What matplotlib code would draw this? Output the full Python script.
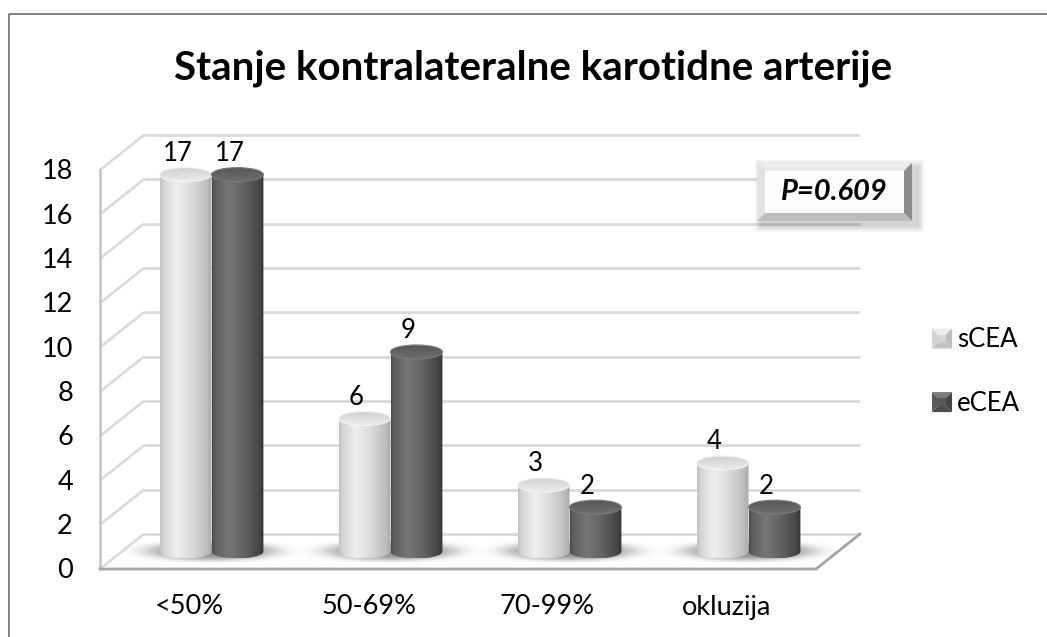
import numpy as np
import matplotlib
matplotlib.use("Agg")
import matplotlib.pyplot as plt
from matplotlib.colors import LinearSegmentedColormap
from matplotlib.patches import Ellipse, Polygon, Rectangle
from matplotlib.transforms import offset_copy
from matplotlib.legend_handler import HandlerBase

# ---- data -------------------------------------------------------------
categories = ['<50%', '50-69%', '70-99%', 'okluzija']
scea = [17, 6, 3, 4]
ecea = [17, 9, 2, 2]
series_names = ['sCEA', 'eCEA']
yticks = list(range(0, 19, 2))
title = 'Stanje kontralateralne karotidne arterije'
p_label = 'P=0.609'

plt.rcParams['font.family'] = ['Lato', 'DejaVu Sans']

W, H = 1047, 637
fig = plt.figure(figsize=(W / 100, H / 100), dpi=100)
fig.patch.set_facecolor('white')

# ---- axes laid out on the mid-depth plane of the oblique 3-D box -------
XMIN, XMAX = -0.9, 3.9
YMIN, YMAX = -3.2, 19.0
PX_X, PX_Y = 179.0, 22.17          # pixels per category / per unit
left_px = 122 - (-0.5 - XMIN) * PX_X
zero_px = 551.5
ax = fig.add_axes([left_px / W,
                   (H - (zero_px - YMIN * PX_Y)) / H,
                   (XMAX - XMIN) * PX_X / W,
                   (YMAX - YMIN) * PX_Y / H])
ax.set_xlim(XMIN, XMAX)
ax.set_ylim(YMIN, YMAX)
ax.axis('off')

DX, DY = 22 / PX_X, 17.5 / PX_Y     # half depth of the box
EH = 14 / PX_Y                      # cylinder cap height
BW = 0.29                           # bar width
LO, HI = -0.5, len(categories) - 0.5
TOP = yticks[-1]

# floor
ax.add_patch(Polygon([(LO - DX, -DY), (HI - DX, -DY), (HI + DX, DY), (LO + DX, DY)],
                     closed=True, fc='white', ec='none', zorder=1))
# back wall and side wall grid
for v in yticks:
    ax.plot([LO + DX, HI + DX], [v + DY, v + DY], color='#d9d9d9', lw=2.0,
            solid_capstyle='butt', zorder=2)
    ax.plot([LO - DX, LO + DX], [v - DY, v + DY], color='#d9d9d9', lw=1.8,
            solid_capstyle='butt', zorder=2)
ax.plot([LO - DX, LO - DX], [-DY, TOP - DY], color='#c4c4c4', lw=1.8, zorder=3)
ax.plot([LO - DX, HI - DX, HI + DX], [-DY, -DY, DY], color='#a6a6a6', lw=2.0,
        solid_joinstyle='miter', zorder=3)


def ramp(stops, n=256):
    cm = LinearSegmentedColormap.from_list('r', stops)
    return cm(np.linspace(0, 1, n))[:, :3]


side_light = ramp([(0.0, '#c2c2c2'), (0.08, '#d6d6d6'), (0.32, '#efefef'),
                   (0.6, '#dcdcdc'), (0.9, '#bdbdbd'), (1.0, '#a9a9a9')])
side_dark = ramp([(0.0, '#4a4a4a'), (0.06, '#5e5e5e'), (0.32, '#767676'),
                  (0.6, '#636363'), (0.9, '#474747'), (1.0, '#353535')])
top_light = ramp([(0.0, '#ececec'), (0.5, '#dedede'), (0.9, '#d2d2d2'), (1.0, '#e6e6e6')])
top_dark = ramp([(0.0, '#707070'), (0.5, '#636363'), (0.9, '#585858'), (1.0, '#6a6a6a')])


# soft floor shadows under each pair
gx, gy = np.meshgrid(np.linspace(-0.5, 0.5, 200), np.linspace(-1.2, 1.2, 80))
for i in range(len(categories)):
    r = (gx / 0.36) ** 2 + (gy / 0.42) ** 2
    sh = np.zeros(gx.shape + (4,))
    sh[..., :3] = 0.42
    sh[..., 3] = 0.75 * np.exp(-r ** 2)
    ax.imshow(sh, extent=[i - 0.5, i + 0.5, -1.2, 1.2], origin='lower',
              aspect='auto', interpolation='bilinear', zorder=4)


def cylinder(xc, v, side, cap, rim, z):
    x0, x1 = xc - BW / 2, xc + BW / 2
    t = np.linspace(np.pi, 2 * np.pi, 80)
    verts = [(x0, v)] + list(zip(xc + BW / 2 * np.cos(t), EH / 2 * np.sin(t))) + [(x1, v)]
    body = Polygon(verts, closed=True, fc='none', ec='none')
    ax.add_patch(body)
    im = ax.imshow(side[np.newaxis, :, :], extent=[x0, x1, -EH / 2, v],
                   origin='lower', aspect='auto', interpolation='bilinear', zorder=z)
    im.set_clip_path(body)
    lid = Ellipse((xc, v), BW, EH, fc='none', ec='none')
    ax.add_patch(lid)
    im2 = ax.imshow(cap[:, np.newaxis, :], extent=[x0, x1, v - EH / 2, v + EH / 2],
                    origin='lower', aspect='auto', interpolation='bilinear', zorder=z + 0.1)
    im2.set_clip_path(lid)
    ax.add_patch(Ellipse((xc, v), BW, EH, fc='none', ec=rim, lw=0.8, zorder=z + 0.2))


label_tr = offset_copy(ax.transData, fig=fig, x=-8, y=21, units='dots')
for i, cat in enumerate(categories):
    for k, (vals, side, cap, rim) in enumerate([(scea, side_light, top_light, '#f4f4f4'),
                                                (ecea, side_dark, top_dark, '#7a7a7a')]):
        xc = i + (k - 0.5) * BW
        cylinder(xc, vals[i], side, cap, rim, 5 + k)
        ax.text(xc, vals[i], str(vals[i]), transform=label_tr, ha='center',
                va='center', fontsize=18.5, color='black', zorder=10)
    ax.text(i - DX, -DY, cat, transform=offset_copy(ax.transData, fig=fig, x=0, y=-38, units='dots'),
            ha='center', va='center', fontsize=19.5, color='black')

tick_tr = offset_copy(ax.transData, fig=fig, x=-27, y=-2, units='dots')
for v in yticks:
    ax.text(LO - DX, v - DY, str(v), transform=tick_tr, ha='right', va='center',
            fontsize=19.5, color='black')

# ---- title and frame ----------------------------------------------------
fig.text(533 / W, 1 - 68 / H, title, ha='center', va='center', fontsize=29,
         fontweight='bold', color='black')


def fx(px):
    return px / W


def fy(py):
    return 1 - py / H


fig.add_artist(plt.Line2D([fx(9), fx(9), fx(W)], [fy(H), fy(14), fy(14)],
                          transform=fig.transFigure, color='#6e6e6e', lw=1.2))


# ---- legend with bevelled swatches -------------------------------------
class BevelHandler(HandlerBase):
    def __init__(self, shades):
        super().__init__()
        self.shades = shades

    def create_artists(self, legend, orig_handle, xdescent, ydescent, width, height,
                       fontsize, trans):
        s = min(width, height)
        x0, y0 = -xdescent, -ydescent + (height - s) / 2
        b = s * 0.32
        top, lft, rgt, bot, mid = self.shades
        o = [(x0, y0), (x0 + s, y0), (x0 + s, y0 + s), (x0, y0 + s)]
        n = [(x0 + b, y0 + b), (x0 + s - b, y0 + b), (x0 + s - b, y0 + s - b), (x0 + b, y0 + s - b)]
        faces = [([o[3], o[2], n[2], n[3]], top), ([o[0], o[3], n[3], n[0]], lft),
                 ([o[1], o[2], n[2], n[1]], rgt), ([o[0], o[1], n[1], n[0]], bot),
                 (n, mid)]
        return [Polygon(p, closed=True, fc=c, ec='none', transform=trans) for p, c in faces]


h1 = Rectangle((0, 0), 1, 1, fc='#d9d9d9')
h2 = Rectangle((0, 0), 1, 1, fc='#595959')
fig.legend([h1, h2], series_names, loc='upper left', bbox_to_anchor=(fx(932), fy(327)),
           frameon=False, fontsize=18.5, handlelength=0.78, handleheight=1.0,
           handletextpad=0.2, labelspacing=1.49, borderpad=0, borderaxespad=0,
           handler_map={h1: BevelHandler(('#ececec', '#d4d4d4', '#bdbdbd', '#c4c4c4', '#d6d6d6')),
                        h2: BevelHandler(('#7c7c7c', '#5c5c5c', '#454545', '#4c4c4c', '#5a5a5a'))})

# ---- bevelled annotation box -------------------------------------------
bx0, bx1, by0, by1 = 757, 912, 163, 221
bev = 8
for k, g in enumerate([7, 5, 3.5, 2]):
    fig.add_artist(Rectangle((fx(bx0 + 5 - g), fy(by1 + 4 + g)), (bx1 - bx0 + 2 * g) / W,
                             (by1 - by0 + 2 * g) / H, transform=fig.transFigure,
                             fc='black', ec='none', alpha=0.045))
corners_o = [(bx0, by1), (bx1, by1), (bx1, by0), (bx0, by0)]
corners_i = [(bx0 + bev, by1 - bev), (bx1 - bev, by1 - bev), (bx1 - bev, by0 + bev), (bx0 + bev, by0 + bev)]
bevel_faces = [([corners_o[3], corners_o[2], corners_i[2], corners_i[3]], '#ebebeb'),
               ([corners_o[0], corners_o[3], corners_i[3], corners_i[0]], '#e2e2e2'),
               ([corners_o[1], corners_o[2], corners_i[2], corners_i[1]], '#8c8c8c'),
               ([corners_o[0], corners_o[1], corners_i[1], corners_i[0]], '#bdbdbd'),
               (corners_i, '#fcfcfc')]
for pts, c in bevel_faces:
    fig.add_artist(Polygon([(fx(a), fy(b)) for a, b in pts], closed=True,
                           transform=fig.transFigure, fc=c, ec='none'))
fig.text(fx((bx0 + bx1) / 2), fy((by0 + by1) / 2), p_label, ha='center', va='center',
         fontsize=21, fontweight='bold', fontstyle='italic', color='black')

fig.savefig('out.png', dpi=100, facecolor='white')
